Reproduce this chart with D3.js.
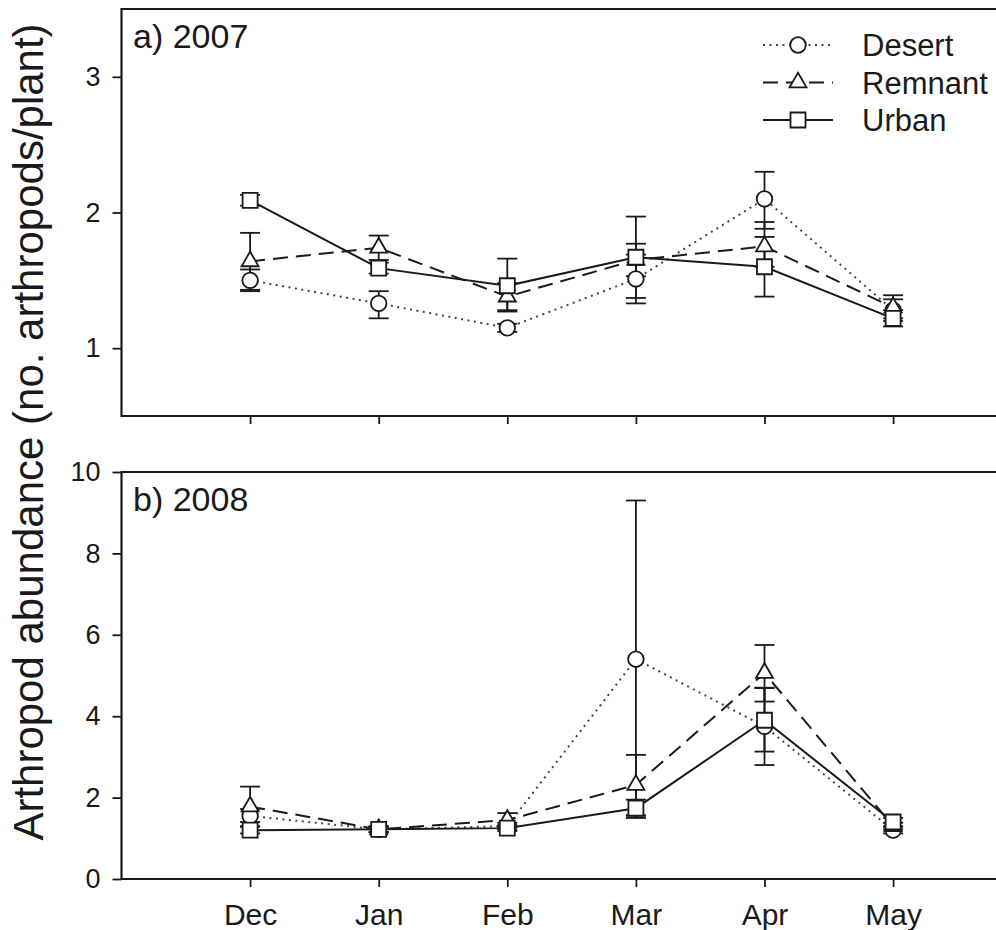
<!DOCTYPE html>
<html>
<head>
<meta charset="utf-8">
<script src="https://cdn.jsdelivr.net/npm/d3@7"></script>
<style>
  body { margin: 0; background: #fff; }
  svg { display: block; font-family: "Liberation Sans", Arial, Helvetica, sans-serif; }
</style>
</head>
<body>
<div class="chart"></div>
<script>
// months on the x axis
const months = ["Dec", "Jan", "Feb", "Mar", "Apr", "May"];

// 2007 means and error bar ends
const desert07    = [1.50, 1.33, 1.15, 1.51, 2.10, 1.28];
const desert07Lo  = [1.42, 1.22, 1.12, 1.33, 1.88, 1.20];
const desert07Hi  = [1.58, 1.42, 1.18, 1.69, 2.30, 1.36];
const remnant07   = [1.64, 1.74, 1.38, 1.65, 1.75, 1.30];
const remnant07Lo = [1.43, 1.65, 1.28, 1.53, 1.60, 1.22];
const remnant07Hi = [1.85, 1.83, 1.48, 1.77, 1.93, 1.39];
const urban07     = [2.09, 1.59, 1.46, 1.67, 1.60, 1.22];
const urban07Lo   = [2.05, 1.55, 1.27, 1.37, 1.38, 1.16];
const urban07Hi   = [2.13, 1.63, 1.66, 1.97, 1.82, 1.28];

// 2008 means and error bar ends
const desert08    = [1.55, 1.22, 1.30, 5.40, 3.75, 1.20];
const desert08Lo  = [1.40, 1.15, 1.22, 1.50, 2.80, 1.12];
const desert08Hi  = [1.72, 1.29, 1.38, 9.30, 4.70, 1.28];
const remnant08   = [1.78, 1.22, 1.45, 2.31, 5.06, 1.30];
const remnant08Lo = [1.30, 1.15, 1.28, 1.57, 4.36, 1.22];
const remnant08Hi = [2.27, 1.29, 1.62, 3.05, 5.75, 1.38];
const urban08     = [1.20, 1.22, 1.25, 1.74, 3.90, 1.40];
const urban08Lo   = [1.12, 1.15, 1.18, 1.52, 3.13, 1.30];
const urban08Hi   = [1.28, 1.29, 1.32, 1.95, 4.69, 1.50];

const ticks07 = [1, 2, 3];
const ticks08 = [0, 2, 4, 6, 8, 10];
const seriesNames = ["Desert", "Remnant", "Urban"];

const width = 996, height = 930;
const ink = "#1a1a1a";

const svg = d3.select(".chart")
  .append("svg")
    .attr("width", width)
    .attr("height", height);

// month index -1 sits on the left axis, the frame runs off the right edge
const x = d3.scaleLinear()
  .domain([-1, 6])
  .range([121.5, 121.5 + 7 * 128.6]);

const styles = {
  Desert:  {dash: "2,4.5", color: "#444", symbol: d3.symbolCircle, size: 190},
  Remnant: {dash: "15,8",  color: ink,    symbol: d3.symbolTriangle, size: 125},
  Urban:   {dash: null,    color: ink,    symbol: d3.symbolSquare, size: 225}
};

const panels = [
  {label: "a) 2007", top: 9, bottom: 416, domain: [0.5, 3.5], ticks: ticks07, labels: false,
   series: [
     {name: "Desert",  mean: desert07,  lo: desert07Lo,  hi: desert07Hi},
     {name: "Remnant", mean: remnant07, lo: remnant07Lo, hi: remnant07Hi},
     {name: "Urban",   mean: urban07,   lo: urban07Lo,   hi: urban07Hi}
   ]},
  {label: "b) 2008", top: 472, bottom: 879, domain: [0, 10], ticks: ticks08, labels: true,
   series: [
     {name: "Desert",  mean: desert08,  lo: desert08Lo,  hi: desert08Hi},
     {name: "Remnant", mean: remnant08, lo: remnant08Lo, hi: remnant08Hi},
     {name: "Urban",   mean: urban08,   lo: urban08Lo,   hi: urban08Hi}
   ]}
];

panels.forEach(function(p) {
  const y = d3.scaleLinear().domain(p.domain).range([p.bottom, p.top]);
  const g = svg.append("g");

  // y axis
  const yAxis = g.append("g")
    .attr("transform", `translate(${x(-1)},0)`)
    .call(d3.axisLeft(y).tickValues(p.ticks).tickFormat(d3.format("d"))
      .tickSize(9).tickPadding(12));
  yAxis.select(".domain").remove();
  yAxis.selectAll("line").attr("stroke", ink).attr("stroke-width", 1.8);
  yAxis.selectAll("text").attr("font-size", 27).attr("fill", ink).attr("font-family", null);

  // x axis ticks
  const xAxis = g.append("g")
    .attr("transform", `translate(0,${p.bottom})`)
    .call(d3.axisBottom(x).tickValues(d3.range(months.length))
      .tickFormat(i => p.labels ? months[i] : "").tickSize(8).tickPadding(17));
  xAxis.select(".domain").remove();
  xAxis.selectAll("line").attr("stroke", ink).attr("stroke-width", 1.8);
  xAxis.selectAll("text").attr("font-size", 30).attr("fill", ink).attr("font-family", null);

  // frame: top, left, bottom (cropped on the right)
  g.append("path")
    .attr("d", `M${width + 5},${p.top}H${x(-1)}V${p.bottom}H${width + 5}`)
    .attr("fill", "none")
    .attr("stroke", ink)
    .attr("stroke-width", 2.2);

  g.append("text")
    .attr("x", 133)
    .attr("y", p.top + 39)
    .attr("font-size", 34)
    .attr("fill", ink)
    .text(p.label);

  const line = d3.line()
    .x((d, i) => x(i))
    .y(d => y(d));

  // connecting lines
  g.selectAll(".series-line")
    .data(p.series)
    .join("path")
      .attr("class", "series-line")
      .attr("fill", "none")
      .attr("stroke", d => styles[d.name].color)
      .attr("stroke-width", 2)
      .attr("stroke-dasharray", d => styles[d.name].dash)
      .attr("d", d => line(d.mean));

  // error bars
  p.series.forEach(function(s) {
    const bars = g.append("g")
      .selectAll("g")
      .data(s.mean.map((m, i) => ({i: i, lo: s.lo[i], hi: s.hi[i]})))
      .join("g")
        .attr("stroke", ink)
        .attr("stroke-width", 1.8);
    bars.append("line")
      .attr("x1", d => x(d.i)).attr("x2", d => x(d.i))
      .attr("y1", d => y(d.lo)).attr("y2", d => y(d.hi));
    bars.append("line")
      .attr("x1", d => x(d.i) - 10).attr("x2", d => x(d.i) + 10)
      .attr("y1", d => y(d.lo)).attr("y2", d => y(d.lo));
    bars.append("line")
      .attr("x1", d => x(d.i) - 10).attr("x2", d => x(d.i) + 10)
      .attr("y1", d => y(d.hi)).attr("y2", d => y(d.hi));
  });

  // markers
  p.series.forEach(function(s) {
    const st = styles[s.name];
    g.append("g")
      .selectAll("path")
      .data(s.mean)
      .join("path")
        .attr("transform", (d, i) => `translate(${x(i)},${y(d)})`)
        .attr("d", d3.symbol().type(st.symbol).size(st.size))
        .attr("fill", "#fff")
        .attr("stroke", ink)
        .attr("stroke-width", 1.8);
  });
});

// legend
const legend = svg.append("g")
  .selectAll("g")
  .data(seriesNames)
  .join("g")
    .attr("transform", (d, i) => `translate(0,${45 + i * 37.5})`);
legend.append("line")
  .attr("x1", 763).attr("x2", 833)
  .attr("stroke", d => styles[d].color)
  .attr("stroke-width", 2)
  .attr("stroke-dasharray", d => styles[d].dash);
legend.append("path")
  .attr("transform", "translate(798,0)")
  .attr("d", d => d3.symbol().type(styles[d].symbol).size(styles[d].size)())
  .attr("fill", "#fff")
  .attr("stroke", ink)
  .attr("stroke-width", 1.8);
legend.append("text")
  .attr("x", 862)
  .attr("dy", "0.36em")
  .attr("font-size", 31)
  .attr("fill", ink)
  .text(d => d);

// shared y axis title
svg.append("text")
  .attr("transform", "translate(43,432) rotate(-90)")
  .attr("text-anchor", "middle")
  .attr("font-size", 42)
  .attr("fill", ink)
  .text("Arthropod abundance (no. arthropods/plant)");
</script>
</body>
</html>
